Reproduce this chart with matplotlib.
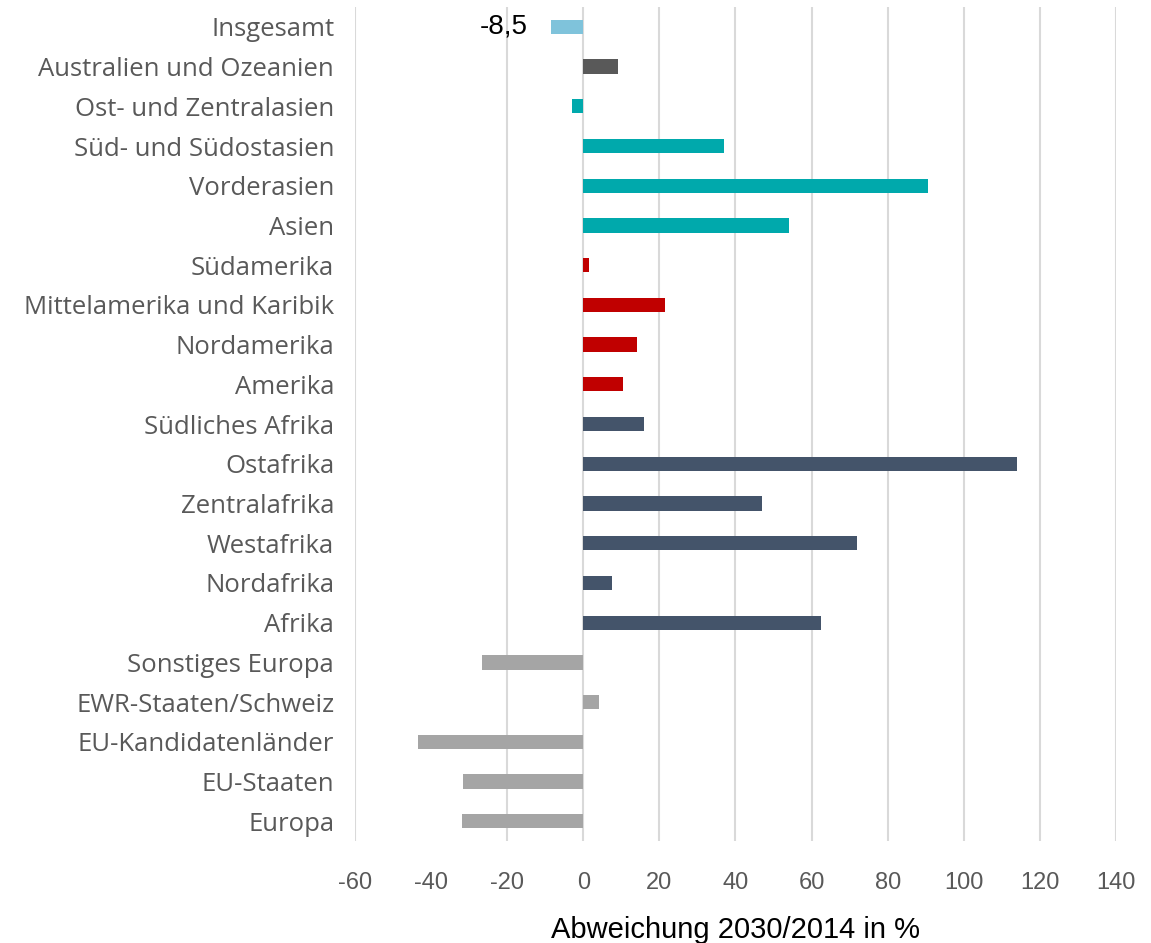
import matplotlib

matplotlib.use("Agg")
import matplotlib.pyplot as plt

categories = [
    "Insgesamt",
    "Australien und Ozeanien",
    "Ost- und Zentralasien",
    "Süd- und Südostasien",
    "Vorderasien",
    "Asien",
    "Südamerika",
    "Mittelamerika und Karibik",
    "Nordamerika",
    "Amerika",
    "Südliches Afrika",
    "Ostafrika",
    "Zentralafrika",
    "Westafrika",
    "Nordafrika",
    "Afrika",
    "Sonstiges Europa",
    "EWR-Staaten/Schweiz",
    "EU-Kandidatenländer",
    "EU-Staaten",
    "Europa",
]
values = [
    -8.5, 9.0, -3.0, 37.0, 90.5, 54.0, 1.5, 21.5, 14.0, 10.5,
    16.0, 114.0, 47.0, 72.0, 7.5, 62.5, -26.5, 4.2, -43.5, -31.5, -32.0,
]
groups = [
    "total", "oceania", "asia", "asia", "asia", "asia",
    "america", "america", "america", "america",
    "africa", "africa", "africa", "africa", "africa", "africa",
    "europe", "europe", "europe", "europe", "europe",
]
group_colors = {
    "total": "#7FC3DB",
    "oceania": "#595959",
    "asia": "#00A9AC",
    "america": "#C00000",
    "africa": "#44546A",
    "europe": "#A5A5A5",
}
x_ticks = [-60, -40, -20, 0, 20, 40, 60, 80, 100, 120, 140]
x_label = "Abweichung 2030/2014 in %"
label_font = ["Open Sans", "DejaVu Sans"]
narrow_font = ["Liberation Sans Narrow", "Liberation Sans", "DejaVu Sans"]

fig = plt.figure(figsize=(11.51, 9.43), dpi=100)
ax = fig.add_axes([0.3084, 0.108, 0.6612, 0.8846])

ypos = list(range(len(categories)))
colors = [group_colors[g] for g in groups]
ax.barh(ypos, values, height=0.36, color=colors, zorder=3)

ax.set_ylim(len(categories) - 0.5, -0.5)
ax.set_xlim(x_ticks[0], x_ticks[-1])
ax.set_yticks(ypos)
ax.set_yticklabels(categories, family=label_font, fontsize=18.5, color="#595959")
ax.set_xticks(x_ticks)
ax.set_xticklabels([str(t) for t in x_ticks], family=narrow_font,
                   fontsize=17, color="#595959")
ax.tick_params(axis="both", length=0)
ax.tick_params(axis="y", pad=15)
ax.tick_params(axis="x", pad=22)

for t in x_ticks:
    if t == -40:
        continue  # this gridline is missing in the source chart
    ax.axvline(t, color="#D9D9D9", linewidth=1.5, zorder=1)

for s in ax.spines.values():
    s.set_visible(False)

ax.set_xlabel(x_label, family=narrow_font, fontsize=21, color="black", labelpad=16)

# data label for the total
ax.text(values[0] - 6, 0, "-8,5", ha="right", va="center",
        family=narrow_font, fontsize=20, color="black", zorder=4)

fig.savefig("out.png", dpi=100)
